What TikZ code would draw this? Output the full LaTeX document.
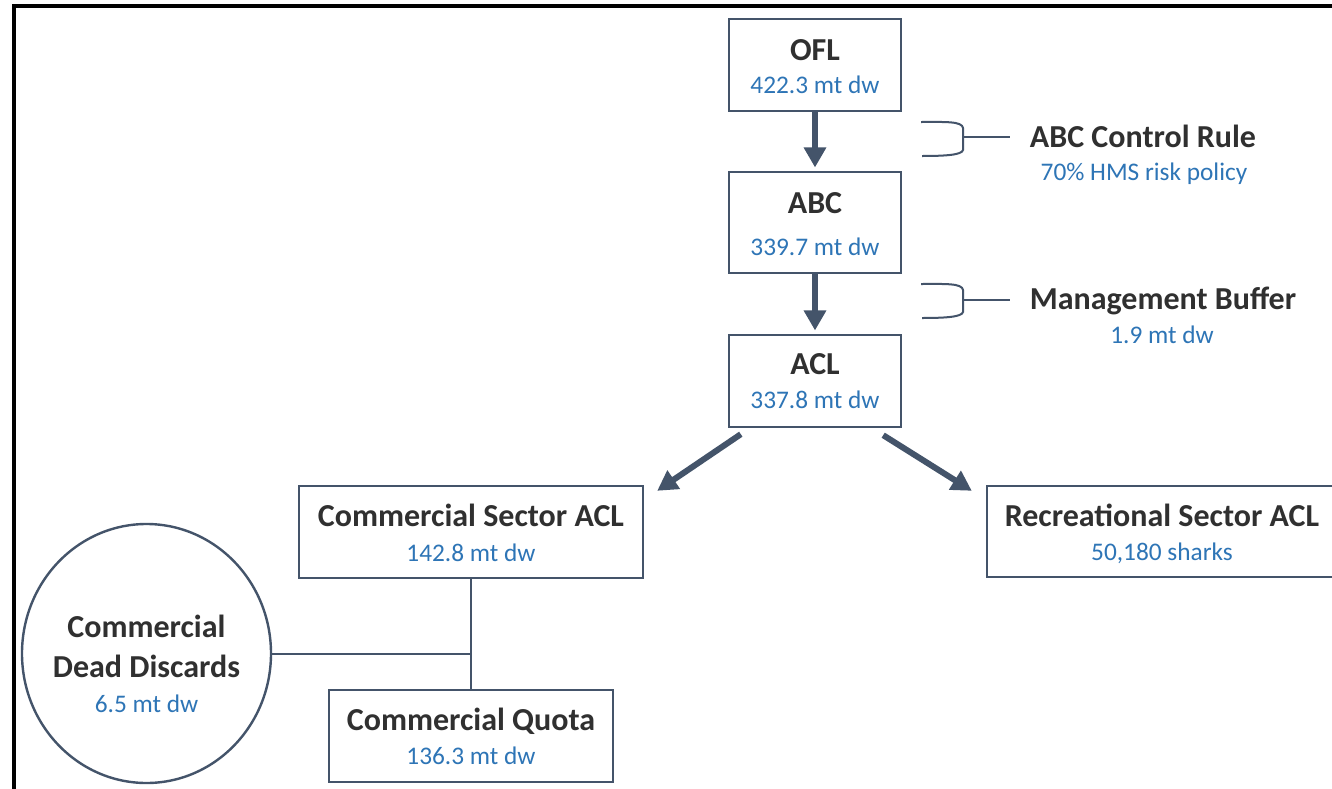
\documentclass[tikz,border=0pt]{standalone}
\usepackage{fontspec}
\setmainfont{Carlito}
\usetikzlibrary{arrows.meta,calc,shapes.geometric}
\definecolor{bord}{HTML}{44546A}
\definecolor{ttlc}{HTML}{303030}
\definecolor{valc}{HTML}{2E75B6}
\begin{document}
\begin{tikzpicture}[x=0.75pt,y=-0.75pt,
  box/.style={draw=bord,line width=1.8pt,inner sep=0pt,fill=white},
  ttlt/.style={font=\fontsize{24}{28}\selectfont\bfseries,text=ttlc,anchor=base,inner sep=0pt},
  valt/.style={font=\fontsize{19}{22}\selectfont,text=valc,anchor=base,inner sep=0pt},
  bigarrow/.style={draw=bord,line width=4.5pt,-{Triangle[width=16pt,length=15pt]}},
  thinline/.style={draw=bord,line width=1.5pt},
  bracketline/.style={draw=bord,line width=1.5pt},
  frameline/.style={draw=black,line width=2.3pt}]
\useasboundingbox (0,0) rectangle (1332,789);
\fill[white] (0,0) rectangle (1332,789);
% frame
\draw[frameline] (1332,6) -- (14,6) -- (14,789);
% boxes
\node[box,minimum width=172*0.75,minimum height=92*0.75] (ofl) at (815,65) {};
\node[ttlt] (ofl-t) at (815,60) {OFL};
\node[valt] (ofl-v) at (815,93) {422.3 mt dw};

\node[box,minimum width=172*0.75,minimum height=101*0.75] (abc) at (815,222.5) {};
\node[ttlt] (abc-t) at (815,213) {ABC};
\node[valt] (abc-v) at (815,255) {339.7 mt dw};

\node[box,minimum width=172*0.75,minimum height=92*0.75] (acl) at (815,381) {};
\node[ttlt] (acl-t) at (815,374) {ACL};
\node[valt] (acl-v) at (815,408) {337.8 mt dw};

\node[box,minimum width=344*0.75,minimum height=92*0.75] (com) at (471,532) {};
\node[ttlt] (com-t) at (471,526) {Commercial Sector ACL};
\node[valt] (com-v) at (471,561) {142.8 mt dw};

\node[box,minimum width=350*0.75,minimum height=91*0.75] (rec) at (1162,531.5) {};
\node[ttlt] (rec-t) at (1162,526) {Recreational Sector ACL};
\node[valt] (rec-v) at (1162,560) {50,180 sharks};

\node[box,minimum width=284*0.75,minimum height=92*0.75] (quo) at (471,736) {};
\node[ttlt] (quo-t) at (471,730) {Commercial Quota};
\node[valt] (quo-v) at (471,764) {136.3 mt dw};

\node[box,ellipse,minimum width=249*0.75,minimum height=259*0.75] (dis) at (146.5,653.5) {};
\node[ttlt] (dis-t1) at (146.5,637) {Commercial};
\node[ttlt] (dis-t2) at (146.5,677) {Dead Discards};
\node[valt] (dis-v) at (146.5,712) {6.5 mt dw};

% side labels
\node[ttlt] (rule-t) at (1143,147) {ABC Control Rule};
\node[valt] (rule-v) at (1144,180) {70\% HMS risk policy};
\node[ttlt] (buf-t) at (1163,309) {Management Buffer};
\node[valt] (buf-v) at (1162,343) {1.9 mt dw};

% brackets
\draw[bracketline] (921,122) .. controls (945,122) and (962,121) .. (963,128)
  -- (963,150) .. controls (962,155) and (945,156) .. (922,156);
\draw[thinline] (963,137) -- (1010,137);
\draw[bracketline] (921,284) .. controls (945,284) and (962,283) .. (963,290)
  -- (963,312) .. controls (962,317) and (945,318) .. (922,318);
\draw[thinline] (963,300) -- (1010,300);

% arrows
\draw[bigarrow,shorten >=2.5pt] (ofl.south) -- (abc.north);
\draw[bigarrow,shorten >=2.5pt] (abc.south) -- (acl.north);
\draw[bigarrow] ($(acl.south west)+(13,6)$) -- ($(com.north east)+(13,6)$);
\draw[bigarrow] ($(acl.south east)+(-19,7)$) -- ($(rec.north west)+(-14,6)$);

% thin connectors
\draw[thinline] (com.south) -- (quo.north);
\draw[thinline] (dis.east) -- (dis.east -| com.south);
\end{tikzpicture}
\end{document}
